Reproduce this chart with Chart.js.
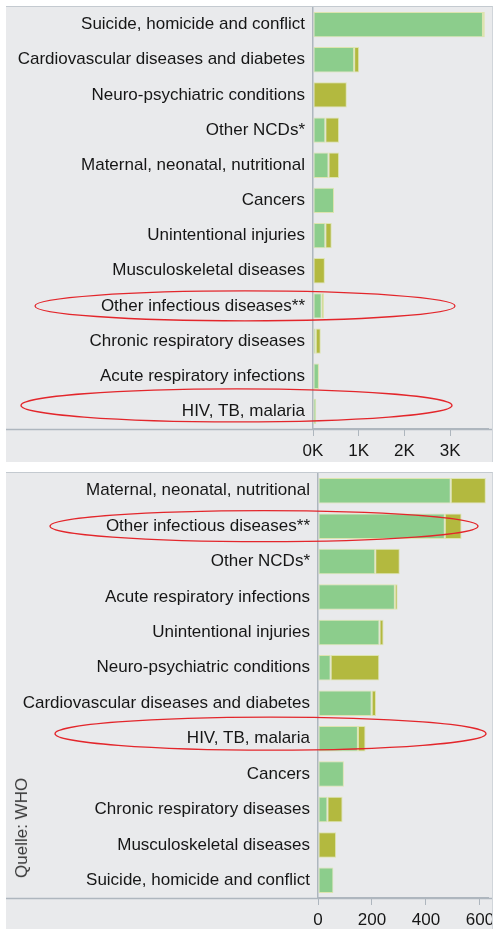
<!DOCTYPE html>
<html>
<head>
<meta charset="utf-8">
<script src="https://cdn.jsdelivr.net/npm/chart.js@4/dist/chart.umd.min.js"></script>
<style>
  html, body { margin:0; padding:0; background:#ffffff; }
  body { width:495px; height:929px; position:relative; overflow:hidden; font-family:"Liberation Sans", Arial, sans-serif; }
  .panel { position:absolute; background:#e9eaec; box-sizing:border-box; border-top:1px solid #c4cad0; border-right:1px solid #d0d5da; }
  #p1 { left:6px; top:6px; width:487px; height:456px; }
  #p2 { left:6px; top:472px; width:487px; height:457px; }
  .wrap { position:absolute; }
  #w1 { left:6px; top:7px; width:486px; height:455px; }
  #w2 { left:6px; top:473px; width:486px; height:456px; }
  #src { position:absolute; left:22px; top:828px; transform:translate(-50%,-50%) rotate(-90deg);
         font-size:17px; color:#3a3a3a; white-space:nowrap; }
</style>
</head>
<body>
<div class="panel" id="p1"></div>
<div class="panel" id="p2"></div>
<div class="wrap" id="w1"><canvas id="c1" width="486" height="455"></canvas></div>
<div class="wrap" id="w2"><canvas id="c2" width="486" height="456"></canvas></div>
<div id="src">Quelle: WHO</div>
<script>
// ---- Data: top panel (values in deaths, thousands shown as K) ----
const topCategories = ["Suicide, homicide and conflict","Cardiovascular diseases and diabetes","Neuro-psychiatric conditions","Other NCDs*","Maternal, neonatal, nutritional","Cancers","Unintentional injuries","Musculoskeletal diseases","Other infectious diseases**","Chronic respiratory diseases","Acute respiratory infections","HIV, TB, malaria"];
const topGreen  = [3720, 900,   0, 270, 340, 460, 270,   0, 190,  60, 130, 70];
const topOlive  = [  40, 110, 740, 300, 230,   0, 140, 260,  50, 110,   0,  0];
const topTicks  = [0, 1000, 2000, 3000];

// ---- Data: bottom panel ----
const botCategories = ["Maternal, neonatal, nutritional","Other infectious diseases**","Other NCDs*","Acute respiratory infections","Unintentional injuries","Neuro-psychiatric conditions","Cardiovascular diseases and diabetes","HIV, TB, malaria","Cancers","Chronic respiratory diseases","Musculoskeletal diseases","Suicide, homicide and conflict"];
const botGreen  = [492, 470, 212, 285, 228,  47, 199, 148, 96, 35,  0, 57];
const botOlive  = [130,  62,  91,  10,  15, 180,  16,  28,  0, 56, 67,  0];
const botTicks  = [0, 200, 400, 600];

const topHighlights = ["Other infectious diseases**", "HIV, TB, malaria"];
const botHighlights = ["Other infectious diseases**", "HIV, TB, malaria"];

const GREEN = '#8ccd8c';
const OLIVE = '#b3b93f';
const TEXT = '#161616';
const AXIS = '#aeb6be';
const FONT = '"Liberation Sans", Arial, sans-serif';

const decorPlugin = {
  id: 'decor',
  beforeDatasetsDraw(chart) {
    const ctx = chart.ctx, a = chart.chartArea;
    ctx.save();
    ctx.strokeStyle = AXIS; ctx.lineWidth = 1.5;
    ctx.beginPath(); ctx.moveTo(0, a.bottom + 0.5); ctx.lineTo(chart.width, a.bottom + 0.5); ctx.stroke();
    ctx.restore();
  },
  afterDraw(chart, args, opts) {
    const ctx = chart.ctx, ys = chart.scales.y;
    ctx.save();
    ctx.strokeStyle = '#e3262b'; ctx.lineWidth = 1.3;
    (opts.ellipses || []).forEach(e => {
      const idx = chart.data.labels.indexOf(e.label);
      if (idx < 0) return;
      const cy = ys.getPixelForValue(idx) + e.dy;
      const cx = (e.x0 + e.x1) / 2, rx = (e.x1 - e.x0) / 2;
      ctx.beginPath(); ctx.ellipse(cx, cy, rx, e.ry, 0, 0, Math.PI * 2); ctx.stroke();
    });
    ctx.restore();
  }
};

function makeChart(id, labels, green, olive, ticks, xmax, yWidth, xHeight, fmt, ellipses, tickPad) {
  return new Chart(document.getElementById(id), {
    type: 'bar',
    data: {
      labels: labels,
      datasets: [
        { data: green, backgroundColor: GREEN, borderColor: 'rgba(215,225,150,0.7)', borderWidth: 1, borderSkipped: false },
        { data: olive, backgroundColor: OLIVE, borderColor: 'rgba(215,225,150,0.7)', borderWidth: 1, borderSkipped: false }
      ]
    },
    options: {
      indexAxis: 'y',
      responsive: false,
      animation: false,
      devicePixelRatio: 1,
      barPercentage: 0.72,
      categoryPercentage: 1,
      layout: { padding: { top: 0, right: 4, left: 0, bottom: 0 } },
      plugins: { legend: { display: false }, tooltip: { enabled: false }, decor: { ellipses: ellipses } },
      scales: {
        x: {
          stacked: true, min: 0, max: xmax,
          afterBuildTicks: s => { s.ticks = ticks.map(v => ({ value: v })); },
          afterFit: s => { s.height = xHeight; s.paddingLeft = 0; s.paddingRight = 0; },
          grid: { drawOnChartArea: false, drawTicks: true, tickLength: 7, color: AXIS },
          border: { display: true, color: AXIS, width: 1.5 },
          ticks: { color: TEXT, font: { family: FONT, size: 17 }, padding: tickPad, maxRotation: 0, autoSkip: false, callback: fmt }
        },
        y: {
          stacked: true,
          afterFit: s => { s.width = yWidth; s.paddingTop = 0; s.paddingBottom = 0; },
          grid: { display: false, drawTicks: false, tickLength: 0 },
          border: { display: true, color: AXIS, width: 1.5 },
          ticks: { color: TEXT, font: { family: FONT, size: 17 }, padding: 8, autoSkip: false }
        }
      }
    },
    plugins: [decorPlugin]
  });
}

makeChart('c1', topCategories, topGreen, topOlive, topTicks, 3830, 307, 33,
  v => (v / 1000) + 'K',
  [ { label: topHighlights[0], x0: 29, x1: 449, ry: 15, dy: 0 },
    { label: topHighlights[1], x0: 15, x1: 446, ry: 16.5, dy: -6 } ], 5);

makeChart('c2', botCategories, botGreen, botOlive, botTicks, 630, 312, 31,
  v => String(v),
  [ { label: botHighlights[0], x0: 44, x1: 472, ry: 15.5, dy: 0 },
    { label: botHighlights[1], x0: 49, x1: 480, ry: 16.5, dy: -5 } ], 5);
</script>
</body>
</html>
